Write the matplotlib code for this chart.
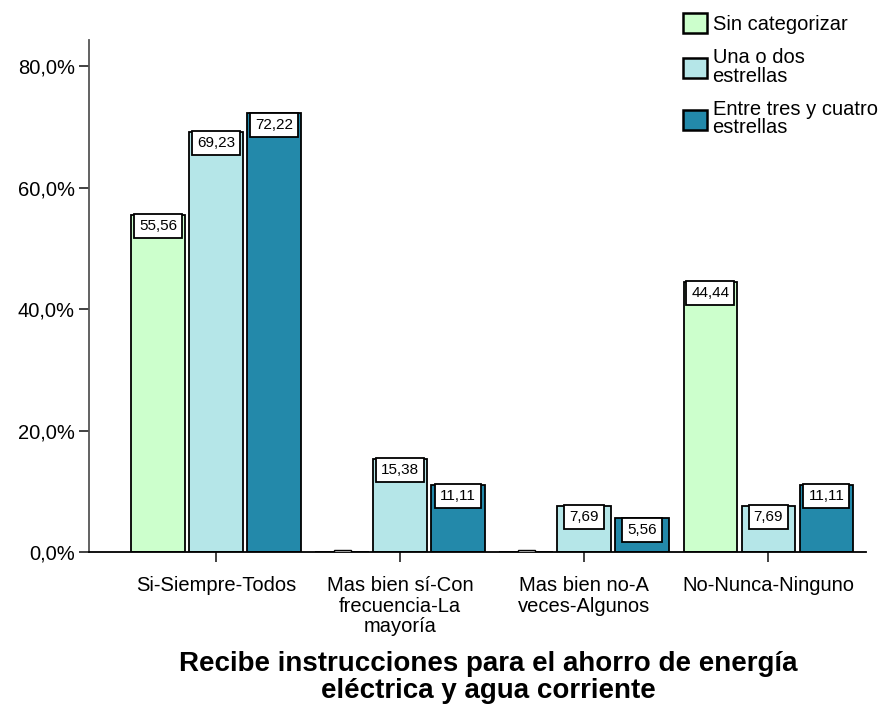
import matplotlib
matplotlib.use("Agg")
import matplotlib.pyplot as plt
from matplotlib.patches import Rectangle
import numpy as np

categories = ["Si-Siempre-Todos", "Mas bien sí-Con\nfrecuencia-La\nmayoría",
              "Mas bien no-A\nveces-Algunos", "No-Nunca-Ninguno"]
series_names = ["Sin categorizar", "Una o dos\nestrellas", "Entre tres y cuatro\nestrellas"]
sin_categorizar = [55.56, 0.0, 0.0, 44.44]
una_o_dos = [69.23, 15.38, 7.69, 7.69]
tres_cuatro = [72.22, 11.11, 5.56, 11.11]
yticks = [0, 20, 40, 60, 80]
ytick_labels = ["0,0%", "20,0%", "40,0%", "60,0%", "80,0%"]
title = "Recibe instrucciones para el ahorro de energía\neléctrica y agua corriente"

colors = ["#CCFFCC", "#B5E6E8", "#2389AA"]

plt.rcParams['font.family'] = ['Liberation Sans', 'DejaVu Sans']
fig = plt.figure(figsize=(8.8, 7.08), dpi=100)
ax = fig.add_axes([0.101, 0.220, 0.883, 0.7235])

x = np.arange(len(categories))
step = 0.315
width = 0.29
all_series = [sin_categorizar, una_o_dos, tres_cuatro]
handles = []
for i, (vals, c, name) in enumerate(zip(all_series, colors, series_names)):
    pos = x + (i - 1) * step
    b = ax.bar(pos, vals, width=width, color=c, edgecolor="black", linewidth=1.3, label=name)
    handles.append(b)
    for p, v in zip(pos, vals):
        if v > 0:
            ax.annotate(f"{v:.2f}".replace(".", ","), xy=(p, v), xytext=(0, -3.0),
                        textcoords="offset points", ha="center", va="top", fontsize=11,
                        bbox=dict(boxstyle="square,pad=0.33", fc="white", ec="black", lw=1.3))
        else:
            ax.add_patch(Rectangle((p - 0.046, v), 0.092, 0.35, fc="white", ec="black",
                                   lw=1.0, zorder=3))

ax.set_xlim(-0.69, 3.53)
ax.set_ylim(0, 84.3)
ax.set_yticks(yticks)
ax.set_yticklabels(ytick_labels, fontsize=14.5)
ax.set_xticks(x)
ax.set_xticklabels(categories, fontsize=14.5, linespacing=1.12)
ax.tick_params(axis="both", direction="out", length=7, width=1.3, color="#333333")
ax.tick_params(axis="x", pad=10)
ax.tick_params(axis="y", pad=3)
for s in ["top", "right"]:
    ax.spines[s].set_visible(False)
ax.spines["left"].set_color("#555555")
ax.spines["left"].set_linewidth(1.3)
ax.spines["bottom"].set_linewidth(1.3)

fig.text(0.555, 0.005, title, ha="center", va="bottom", fontsize=20, fontweight="bold",
         linespacing=1.05)

leg = fig.legend(handles=handles, labels=series_names, loc="upper left",
                 bbox_to_anchor=(0.756, 1.007), frameon=False, fontsize=14.5,
                 handlelength=1.15, handleheight=1.15, handletextpad=0.3,
                 labelspacing=0.72)
for t in leg.get_texts():
    t.set_linespacing(0.95)
for h in leg.legend_handles:
    h.set_linewidth(1.8)

fig.savefig("out.png", dpi=100)
